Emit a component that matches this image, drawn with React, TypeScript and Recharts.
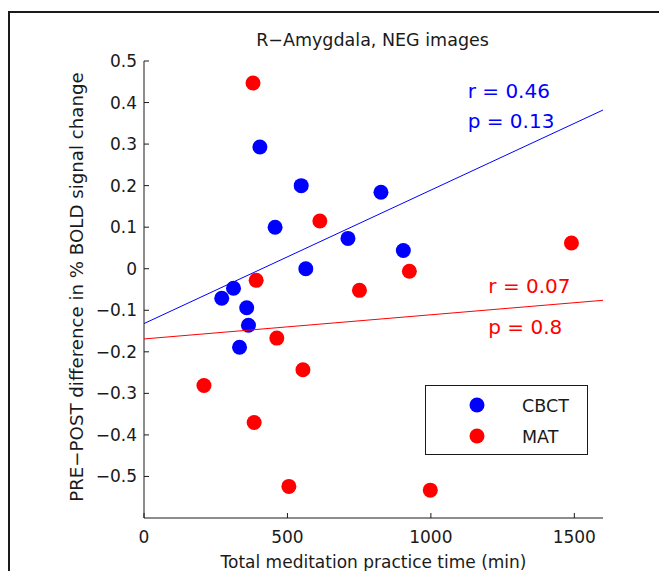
import React from 'react';
import { ScatterChart, Scatter, XAxis, YAxis, Legend } from 'recharts';

const cbctX = [404, 548, 457, 564, 826, 711, 904, 271, 312, 358, 364, 333];
const cbctY = [0.293, 0.2, 0.1, 0.0, 0.184, 0.073, 0.044, -0.071, -0.047, -0.094, -0.136, -0.189];
const matX = [380, 613, 391, 1490, 925, 751, 463, 554, 209, 384, 505, 998];
const matY = [0.447, 0.115, -0.028, 0.062, -0.006, -0.052, -0.167, -0.243, -0.281, -0.37, -0.524, -0.533];

const fitX = [0, 1600];
const cbctFitY = [-0.132, 0.382];
const matFitY = [-0.169, -0.076];

const xTicks = [0, 500, 1000, 1500];
const yTicks = [-0.5, -0.4, -0.3, -0.2, -0.1, 0, 0.1, 0.2, 0.3, 0.4, 0.5];

const title = 'R\u2212Amygdala, NEG images';
const xLabel = 'Total meditation practice time (min)';
const yLabel = 'PRE\u2212POST difference in % BOLD signal change';
const cbctStats = ['r = 0.46', 'p = 0.13'];
const matStats = ['r = 0.07', 'p = 0.8'];

const BLUE = '#0000ff';
const RED = '#ff0000';
const INK = '#1a1a1a';
const FONT = '"DejaVu Sans", sans-serif';

const toPts = (xs: number[], ys: number[]) => xs.map((x, i) => ({ x, y: ys[i] }));
const cbctData = toPts(cbctX, cbctY);
const matData = toPts(matX, matY);
const cbctFit = toPts(fitX, cbctFitY);
const matFit = toPts(fitX, matFitY);

const fmt = (v: number) => (v < 0 ? '\u2212' + String(Math.abs(v)) : String(v));

const Dot = (color: string) => (props: any) =>
  <circle cx={props.cx} cy={props.cy} r={7.5} fill={color} />;

const NoShape = () => <g />;

const LegendBox = (props: any) => {
  const items = (props.payload || []).filter((p: any) => p.type !== 'none');
  return (
    <div style={{ width: 163, height: 70, border: `1px solid ${INK}`, boxSizing: 'border-box', background: '#fff' }}>
      <svg width={161} height={68}>
        {items.map((p: any, i: number) => (
          <g key={p.value}>
            <circle cx={51} cy={19 + i * 31} r={7.5} fill={p.color} />
            <text x={96} y={26 + i * 31} fontSize={17.5} fontFamily={FONT} fill={INK}>{p.value}</text>
          </g>
        ))}
      </svg>
    </div>
  );
};

export default function App() {
  const tickStyle = { fontSize: 17, fontFamily: FONT, fill: INK };
  return (
    <div style={{ position: 'absolute', left: 0, top: 0, width: 659, height: 571, background: '#fff' }}>
      <div style={{ position: 'absolute', left: 8, top: 11, width: 660, height: 570, borderTop: `2px solid ${INK}`, borderLeft: `2px solid ${INK}` }} />
      <div style={{ position: 'absolute', left: 0, top: 0 }}>
        <ScatterChart width={659} height={571} margin={{ top: 61, right: 56, bottom: 0, left: 0 }}>
          <XAxis xAxisId="b" type="number" dataKey="x" domain={[0, 1600]} ticks={xTicks} interval={0}
            orientation="bottom" height={53} tickSize={-5} tickMargin={18}
            axisLine={{ stroke: INK }} tickLine={{ stroke: INK }} tick={tickStyle} />
          <XAxis xAxisId="t" type="number" dataKey="x" domain={[0, 1600]} ticks={xTicks} interval={0}
            orientation="top" height={0} tickSize={-5} tick={false}
            axisLine={{ stroke: INK }} tickLine={{ stroke: INK }} />
          <YAxis yAxisId="l" type="number" dataKey="y" domain={[-0.6, 0.5]} ticks={yTicks} interval={0}
            orientation="left" width={144} tickSize={-5} tickMargin={12} tickFormatter={fmt}
            axisLine={{ stroke: INK }} tickLine={{ stroke: INK }} tick={tickStyle} />
          <YAxis yAxisId="r" type="number" dataKey="y" domain={[-0.6, 0.5]} ticks={yTicks} interval={0}
            orientation="right" width={0} tickSize={-5} tick={false}
            axisLine={{ stroke: INK }} tickLine={{ stroke: INK }} />
          <Scatter name="CBCT" data={cbctData} xAxisId="b" yAxisId="l" fill={BLUE} shape={Dot(BLUE)} isAnimationActive={false} />
          <Scatter name="MAT" data={matData} xAxisId="b" yAxisId="l" fill={RED} shape={Dot(RED)} isAnimationActive={false} />
          <Scatter name="cbctFit" data={cbctFit} xAxisId="t" yAxisId="r" fill={BLUE} legendType="none"
            line={{ stroke: BLUE, strokeWidth: 1 }} shape={NoShape} isAnimationActive={false} />
          <Scatter name="matFit" data={matFit} xAxisId="t" yAxisId="r" fill={RED} legendType="none"
            line={{ stroke: RED, strokeWidth: 1 }} shape={NoShape} isAnimationActive={false} />
          <Legend layout="horizontal" verticalAlign="middle" align="center" content={LegendBox}
            wrapperStyle={{ position: 'absolute', left: 425, top: 385, width: 163, height: 70 }} />
        </ScatterChart>
      </div>
      <svg width={659} height={571} style={{ position: 'absolute', left: 0, top: 0, pointerEvents: 'none' }}>
        <text x={372.5} y={45.5} textAnchor="middle" fontSize={17.5} fontFamily={FONT} fill={INK}>{title}</text>
        <text x={373.5} y={567.5} textAnchor="middle" fontSize={17} fontFamily={FONT} fill={INK}>{xLabel}</text>
        <text x={83} y={287} textAnchor="middle" fontSize={18.2} fontFamily={FONT} fill={INK}
          transform="rotate(-90 83 287)">{yLabel}</text>
        <text x={467.7} y={98.3} fontSize={20} fontFamily={FONT} fill={BLUE}>{cbctStats[0]}</text>
        <text x={467.7} y={128} fontSize={20} fontFamily={FONT} fill={BLUE}>{cbctStats[1]}</text>
        <text x={488.3} y={293.3} fontSize={20} fontFamily={FONT} fill={RED}>{matStats[0]}</text>
        <text x={488.3} y={334} fontSize={20} fontFamily={FONT} fill={RED}>{matStats[1]}</text>
      </svg>
    </div>
  );
}
